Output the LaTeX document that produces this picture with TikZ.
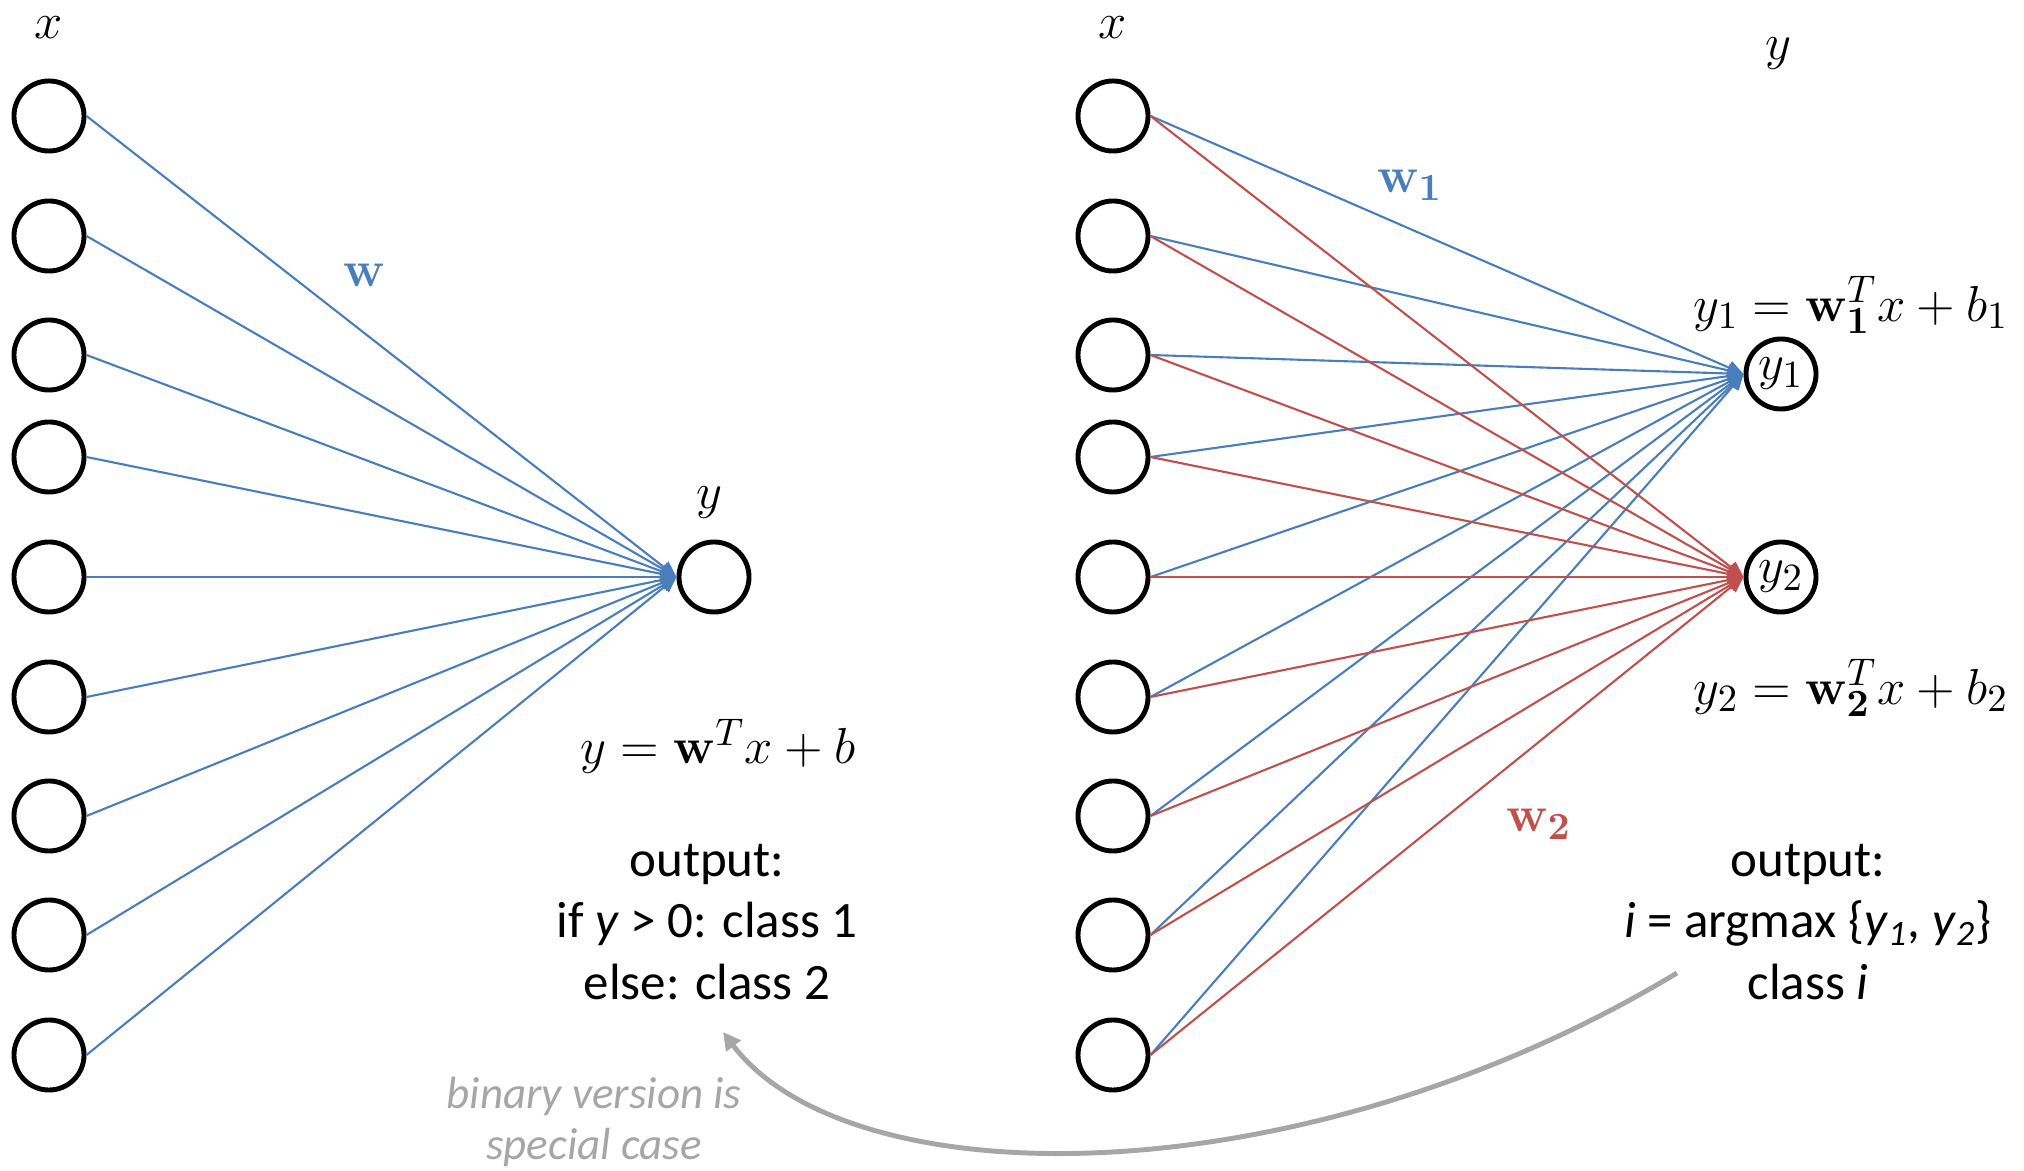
\documentclass[tikz,border=0pt]{standalone}
\usepackage[no-math]{fontspec}
\setmainfont{Carlito}
\usetikzlibrary{arrows.meta}
\definecolor{wblue}{HTML}{4A7EBB}
\definecolor{wred}{HTML}{C0504D}
\definecolor{notegray}{HTML}{A6A6A6}

\begin{document}
\begin{tikzpicture}[x=0.01cm, y=-0.01cm,
    neuron/.style={circle, draw, line width=1.4pt, minimum size=0.7cm, inner sep=0pt},
    wire/.style={line width=0.6pt, -{Triangle[length=4.5pt,width=4pt]}},
    txt/.style={font=\fontsize{14.5}{17.6}\selectfont, align=center},
    mtxt/.style={font=\fontsize{15.4}{18}\selectfont},
    note/.style={font=\fontsize{12.8}{14.7}\selectfont\itshape, text=notegray, align=center}]
  \useasboundingbox (0,0) rectangle (2024,1171);

  % binary classifier
  \foreach \i/\y in {1/116,2/236,3/355,4/457,5/577,6/697,7/816,8/935,9/1055}
    \node[neuron] (a\i) at (49,\y) {};
  \node[neuron] (out) at (714,577) {};
  \foreach \i in {1,...,9}
    \draw[wire, wblue] (a\i.east) -- (out.west);
  \node[mtxt] (xa) at (49,28) {$x$};
  \node[mtxt] (ya) at (709,503) {$y$};
  \node[mtxt, text=wblue] (wa) at (364,275) {$\mathbf{w}$};
  \node[mtxt] (eqa) at (718,746) {$y = \mathbf{w}^T x + b$};
  \node[txt] (outa) at (707,922) {output:\\if \textit{y} > 0: class 1\\else: class 2};

  % two classes
  \foreach \i/\y in {1/116,2/236,3/355,4/457,5/577,6/697,7/816,8/935,9/1055}
    \node[neuron] (b\i) at (1113,\y) {};
  \node[neuron, mtxt] (y1) at (1781,374) {$y_1$};
  \node[neuron, mtxt] (y2) at (1781,577) {$y_2$};
  \foreach \i in {1,...,9}
    \draw[wire, wblue] (b\i.east) -- (y1.west);
  \foreach \i in {1,...,9}
    \draw[wire, wred] (b\i.east) -- (y2.west);
  \node[mtxt] (xb) at (1113,28) {$x$};
  \node[mtxt] (yb) at (1778,54) {$y$};
  \node[mtxt, text=wblue] (w1) at (1410,185) {$\mathbf{w}_{\mathbf{1}}$};
  \node[mtxt, text=wred] (w2) at (1539,824) {$\mathbf{w}_{\mathbf{2}}$};
  \node[mtxt] (eq1) at (1851,305) {$y_1 = \mathbf{w}_{\mathbf{1}}^T x + b_1$};
  \node[mtxt] (eq2) at (1851,688) {$y_2 = \mathbf{w}_{\mathbf{2}}^T x + b_2$};
  \node[txt] (outb) at (1808,922) {output:\\\textit{i} = argmax \{\textit{y}\textsubscript{\textit{1}}, \textit{y}\textsubscript{\textit{2}}\}\\class \textit{i}};

  % note arrow
  \node[note] (spec) at (594,1122) {binary version is\\special case};
  \coordinate (fromnote) at (1677,973);
  \coordinate (tonote) at (723,1032);
  \draw[notegray, line width=1.4pt, -{Triangle[length=5pt,width=5pt]}]
    (fromnote) .. controls (1300,1200) and (850,1200) .. (tonote);
\end{tikzpicture}
\end{document}
